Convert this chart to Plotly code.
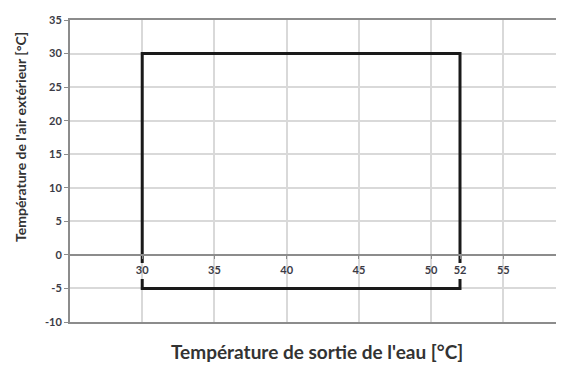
import plotly.graph_objects as go

# operating envelope (water outlet temp vs outdoor air temp)
# the outline is broken where it crosses the x tick labels
env_x = [30, 30, 52, 52, None, 30, 30, 52, 52]
env_y = [-1.2, 30, 30, -1.2, None, -3.6, -5, -5, -3.6]

x_ticks = [30, 35, 40, 45, 50, 52, 55]
y_ticks = [-10, -5, 0, 5, 10, 15, 20, 25, 30, 35]

x_title = "Température de sortie de l'eau [°C]"
y_title = "Température de l'air extérieur [°C]"

grid = "#d9d9d9"
axis_col = "#8c8c8c"
txt = "#3b3b45"
font_fam = "Lato, 'Open Sans', sans-serif"

fig = go.Figure()
fig.add_trace(go.Scatter(
    x=env_x, y=env_y, mode="lines",
    line=dict(color="#1a1a1a", width=3),
    showlegend=False, hoverinfo="skip",
))

# page body has an 8px margin, so the figure is 8px smaller each way
fig.update_layout(
    width=556, height=357,
    margin=dict(l=62, r=0, t=12, b=43),
    plot_bgcolor="white", paper_bgcolor="white",
    font=dict(family=font_fam, color=txt),
    xaxis=dict(
        range=[25, 59.2], tick0=25, dtick=5,
        showgrid=True, gridcolor=grid, gridwidth=1.5,
        showticklabels=False, ticks="",
        showline=True, linecolor=axis_col, linewidth=2, mirror=True,
        zeroline=False,
    ),
    xaxis2=dict(
        overlaying="x", matches="x", anchor="free", position=10 / 45,
        tickvals=x_ticks, ticktext=[str(v) for v in x_ticks],
        showgrid=False, zeroline=False,
        showline=True, linecolor=axis_col, linewidth=2,
        ticks="outside", ticklen=3, tickcolor=axis_col,
        tickfont=dict(size=11, family=font_fam, color=txt, weight="bold"),
        ticklabelstandoff=2,
        side="bottom",
    ),
    yaxis=dict(
        range=[-10, 35], tickvals=y_ticks,
        ticktext=[str(v) for v in y_ticks],
        showgrid=True, gridcolor=grid, gridwidth=1.5,
        zeroline=False,
        showline=True, linecolor=axis_col, linewidth=2,
        ticks="outside", ticklen=4, tickcolor=axis_col,
        tickfont=dict(size=11, family=font_fam, color=txt, weight="bold"),
    ),
    annotations=[
        dict(text=x_title, xref="paper", yref="paper", x=0.5, y=-0.099,
             xanchor="center", yanchor="middle", showarrow=False,
             font=dict(size=19, family=font_fam, color="#333333", weight="bold")),
        dict(text=y_title, xref="paper", yref="paper", x=-0.099, y=0.613,
             xanchor="center", yanchor="middle", showarrow=False, textangle=-90,
             font=dict(size=14, family=font_fam, color="#333333", weight="bold")),
    ],
)

# dummy trace so xaxis2 is drawn
fig.add_trace(go.Scatter(x=[None], y=[None], xaxis="x2", showlegend=False, hoverinfo="skip"))

fig.write_html("out.html")
